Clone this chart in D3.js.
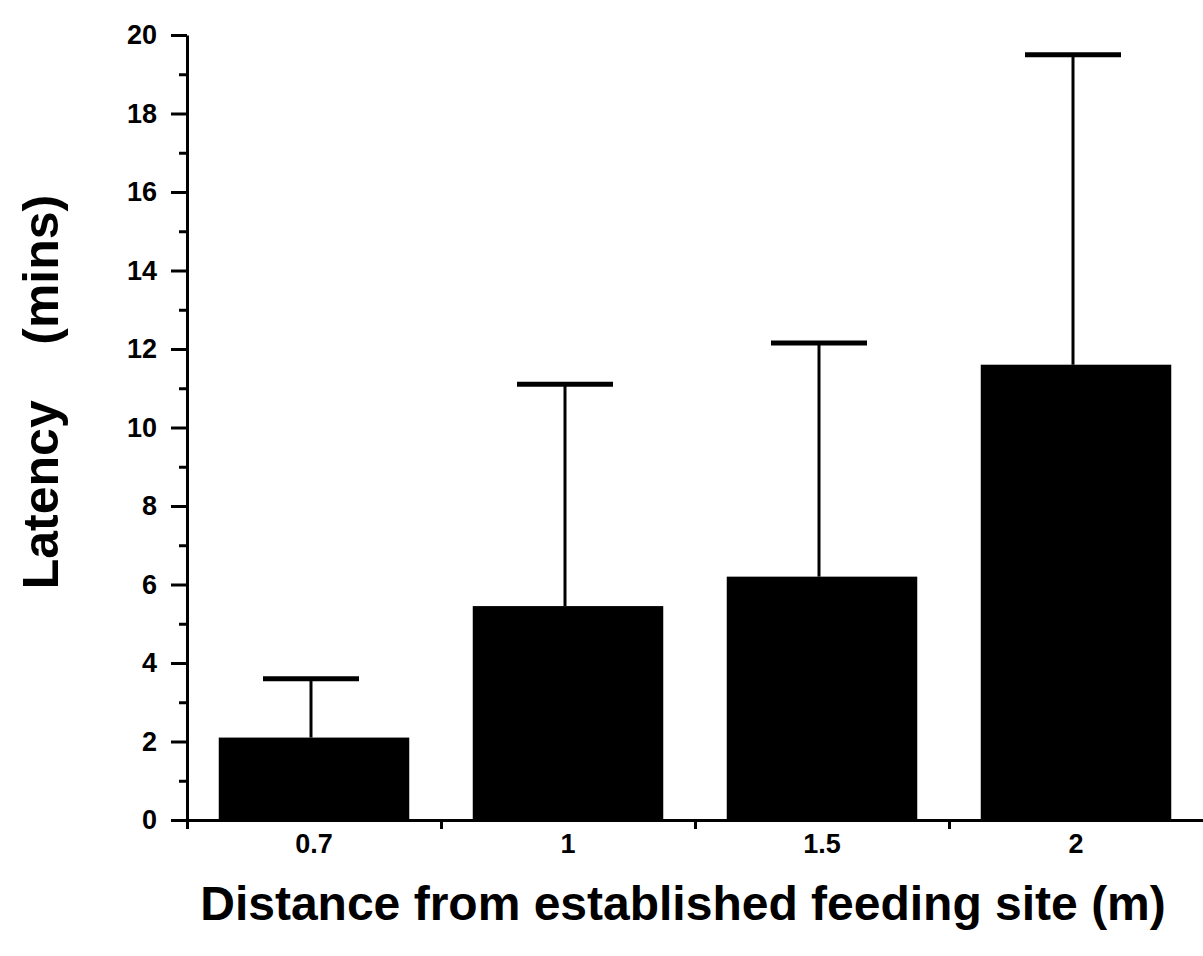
<!DOCTYPE html>
<html>
<head>
<meta charset="utf-8">
<script src="https://cdn.jsdelivr.net/npm/d3@7"></script>
<style>
  body { margin: 0; background: #fff; }
  svg { display: block; }
</style>
</head>
<body>
<script>
// chart values
var categories = ["0.7", "1", "1.5", "2"];
var means = [2.1, 5.45, 6.2, 11.6];
var errors = [1.5, 5.65, 5.95, 7.9];
var majorTicks = [0, 2, 4, 6, 8, 10, 12, 14, 16, 18, 20];
var minorTicks = [1, 3, 5, 7, 9, 11, 13, 15, 17, 19];

var width = 1203, height = 956;
var plotLeft = 187, plotRight = 1203, plotTop = 35, plotBottom = 820;

var svg = d3.select("body").append("svg")
    .attr("width", width)
    .attr("height", height)
    .style("background", "#fff");

var x = d3.scaleBand()
    .domain(categories)
    .range([plotLeft, plotRight])
    .paddingInner(0.25)
    .paddingOuter(0.125);

// index scale, used only for the ticks between the bars
var xi = d3.scaleLinear().domain([0, categories.length]).range([plotLeft, plotRight]);

var y = d3.scaleLinear().domain([0, 20]).range([plotBottom, plotTop]);

var font = "'Liberation Sans', Arial, Helvetica, sans-serif";

// bars
svg.selectAll("rect.bar")
    .data(categories)
    .enter().append("rect")
    .attr("class", "bar")
    .attr("x", function(d){ return x(d); })
    .attr("y", function(d, i){ return y(means[i]); })
    .attr("width", x.bandwidth())
    .attr("height", function(d, i){ return y(0) - y(means[i]); })
    .style("fill", "#000");

// error bars (upper only)
var err = svg.selectAll("g.err")
    .data(categories)
    .enter().append("g")
    .attr("class", "err");

err.append("line")
    .attr("x1", function(d){ return x(d) + x.bandwidth() / 2 - 3; })
    .attr("x2", function(d){ return x(d) + x.bandwidth() / 2 - 3; })
    .attr("y1", function(d, i){ return y(means[i]); })
    .attr("y2", function(d, i){ return y(means[i] + errors[i]); })
    .style("stroke", "#000")
    .style("stroke-width", 3);

err.append("line")
    .attr("x1", function(d){ return x(d) + x.bandwidth() / 2 - 3 - 48; })
    .attr("x2", function(d){ return x(d) + x.bandwidth() / 2 - 3 + 48; })
    .attr("y1", function(d, i){ return y(means[i] + errors[i]); })
    .attr("y2", function(d, i){ return y(means[i] + errors[i]); })
    .style("stroke", "#000")
    .style("stroke-width", 5);

// y axis: major ticks with labels, minor ticks without
var yMajor = svg.append("g")
    .attr("transform", "translate(" + plotLeft + ",0)")
    .call(d3.axisLeft(y).tickValues(majorTicks).tickSize(16).tickPadding(14).tickSizeOuter(0));

var yMinor = svg.append("g")
    .attr("transform", "translate(" + plotLeft + ",0)")
    .call(d3.axisLeft(y).tickValues(minorTicks).tickSize(8).tickFormat("").tickSizeOuter(0));
yMinor.select(".domain").remove();

// x axis: labels under bars, ticks between bars
var xLabels = svg.append("g")
    .attr("transform", "translate(0," + plotBottom + ")")
    .call(d3.axisBottom(x).tickSize(0).tickPadding(14).tickSizeOuter(0));
xLabels.select(".domain").remove();

var xTicks = svg.append("g")
    .attr("transform", "translate(0," + plotBottom + ")")
    .call(d3.axisBottom(xi).tickValues([0, 1, 2, 3]).tickSize(9).tickFormat("").tickSizeOuter(0));

svg.selectAll(".domain, .tick line")
    .style("stroke", "#000")
    .style("stroke-width", 3);

svg.selectAll(".tick text")
    .style("font-family", font)
    .style("font-weight", "bold")
    .style("font-size", "27px")
    .style("fill", "#000");

// axis titles
svg.append("text")
    .attr("x", 683)
    .attr("y", 920)
    .attr("text-anchor", "middle")
    .style("font-family", font)
    .style("font-weight", "bold")
    .style("font-size", "48px")
    .text("Distance from established feeding site (m)");

svg.append("text")
    .attr("transform", "translate(58,392) rotate(-90)")
    .attr("text-anchor", "middle")
    .style("white-space", "pre")
    .style("font-family", font)
    .style("font-weight", "bold")
    .style("font-size", "50px")
    .text("Latency    (mins)");
</script>
</body>
</html>
